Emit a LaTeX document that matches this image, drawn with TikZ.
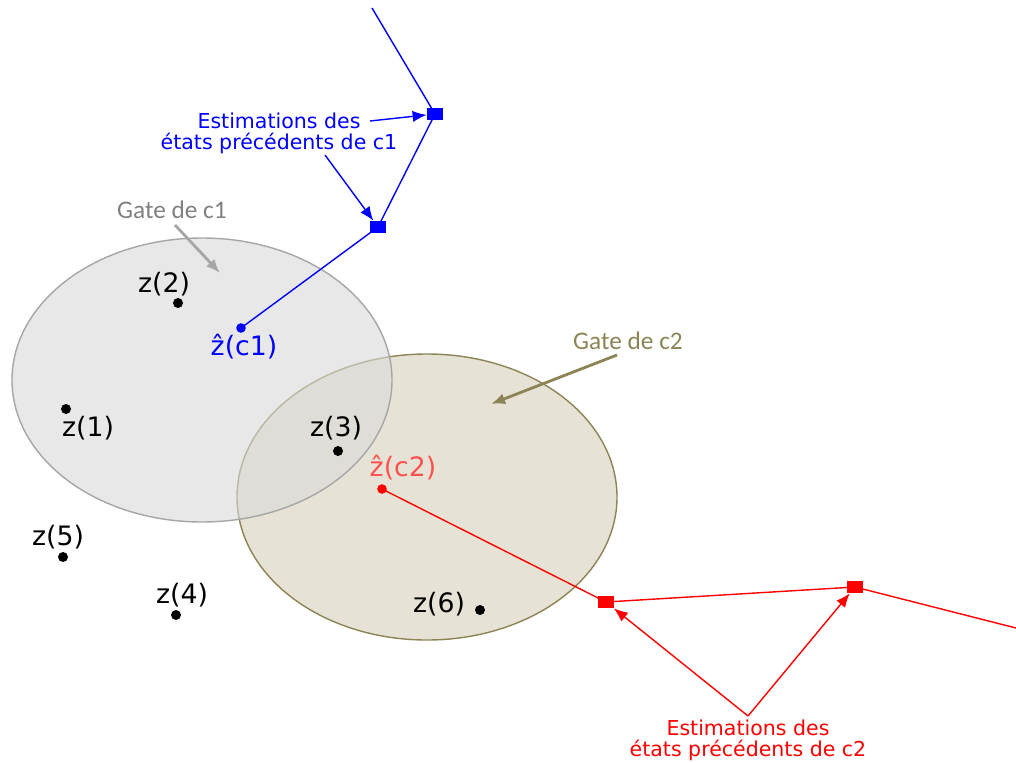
\documentclass[tikz,border=0pt]{standalone}
\usepackage{fontspec}
\setmainfont{DejaVu Sans}
\newfontfamily\gatefont{Carlito}
\usetikzlibrary{arrows.meta,positioning}
\definecolor{gategray}{RGB}{217,217,217}
\definecolor{gateline}{RGB}{166,166,166}
\definecolor{gatetan}{RGB}{230,227,214}
\definecolor{gateolive}{RGB}{140,132,84}
\definecolor{textgray}{RGB}{128,128,128}
\definecolor{zhatred}{RGB}{255,80,80}

\begin{document}
\begin{tikzpicture}[x=0.025cm,y=-0.025cm,
  dot/.style={circle,fill=black,inner sep=0pt,minimum size=0.25cm},
  zlbl/.style={inner sep=0pt,font=\fontsize{19}{20}\selectfont},
  est/.style={rectangle,inner sep=0pt,minimum width=0.4cm,minimum height=0.3cm},
  estlbl/.style={align=center,inner sep=0pt,font=\fontsize{14.6}{15}\selectfont},
  gatelbl/.style={inner sep=0pt,font=\gatefont\fontsize{18}{20}\selectfont},
  arr/.style={-{Latex[length=10pt,width=8pt]},line width=1pt},
  gatearr/.style={-{Latex[length=10pt,width=8pt]},line width=2pt}
]
\useasboundingbox (0,0) rectangle (1016,762);

% gates
\draw[gateolive,line width=1pt,fill=gatetan] (427,497) ellipse [x radius=190,y radius=143];
\draw[gateline,line width=1pt,fill=gategray,fill opacity=0.6] (202,380) ellipse [x radius=190,y radius=142];

% observations
\node[dot] (z1) at (66,409) {};
\node[dot] (z2) at (178,303) {};
\node[dot] (z3) at (338,451) {};
\node[dot] (z4) at (176,615) {};
\node[dot] (z5) at (63,557) {};
\node[dot] (z6) at (480,610) {};
\node[zlbl] (lz1) at (88,428) {z(1)};
\node[zlbl] (lz2) at (164,284) {z(2)};
\node[zlbl] (lz3) at (336,428) {z(3)};
\node[zlbl] (lz4) at (182,595) {z(4)};
\node[zlbl] (lz5) at (58,537) {z(5)};
\node[zlbl] (lz6) at (439,604) {z(6)};

% track c1
\coordinate (c1in) at (372,8);
\node[est,fill=blue] (b1) at (435,114) {};
\node[est,fill=blue] (b2) at (378,227) {};
\node[dot,fill=blue,minimum size=0.24cm] (zc1) at (241,328) {};
\draw[blue,line width=1pt] (c1in) -- (b1.center) -- (b2.center) -- (zc1.center);
\node[zlbl,text=blue] (lzc1) at (244,347) {ẑ(c1)};

% track c2
\coordinate (c2out) at (1016,628);
\node[est,fill=red] (r1) at (606,602) {};
\node[est,fill=red] (r2) at (855,587) {};
\node[dot,fill=red,minimum size=0.24cm] (zc2) at (382,489) {};
\draw[red,line width=1pt] (zc2.center) -- (r1.center) -- (r2.center) -- (c2out);
\node[zlbl,text=zhatred] (lzc2) at (403,468) {ẑ(c2)};

% labels of the estimates
\node[estlbl,text=blue] (estc1) at (279,133) {Estimations des\\états précédents de c1};
\coordinate (estc1a) at (370,121);
\coordinate (estc1b) at (325,155);
\draw[arr,blue] (estc1a) -- (b1);
\draw[arr,blue] (estc1b) -- (b2);

\node[estlbl,text=red] (estc2) at (748,740) {Estimations des\\états précédents de c2};
\coordinate (estc2a) at (748,716);
\draw[arr,red] (estc2a) -- (r1);
\draw[arr,red] (estc2a) -- (r2);

% gate labels
\node[gatelbl,text=textgray] (gc1) at (172,210) {Gate de c1};
\coordinate (gc1a) at (175,225);
\coordinate (gc1b) at (220,273);
\draw[gatearr,gateline] (gc1a) -- (gc1b);

\node[gatelbl,text=gateolive] (gc2) at (628,341) {Gate de c2};
\coordinate (gc2a) at (617,355);
\coordinate (gc2b) at (491,404);
\draw[gatearr,gateolive] (gc2a) -- (gc2b);
\end{tikzpicture}
\end{document}
